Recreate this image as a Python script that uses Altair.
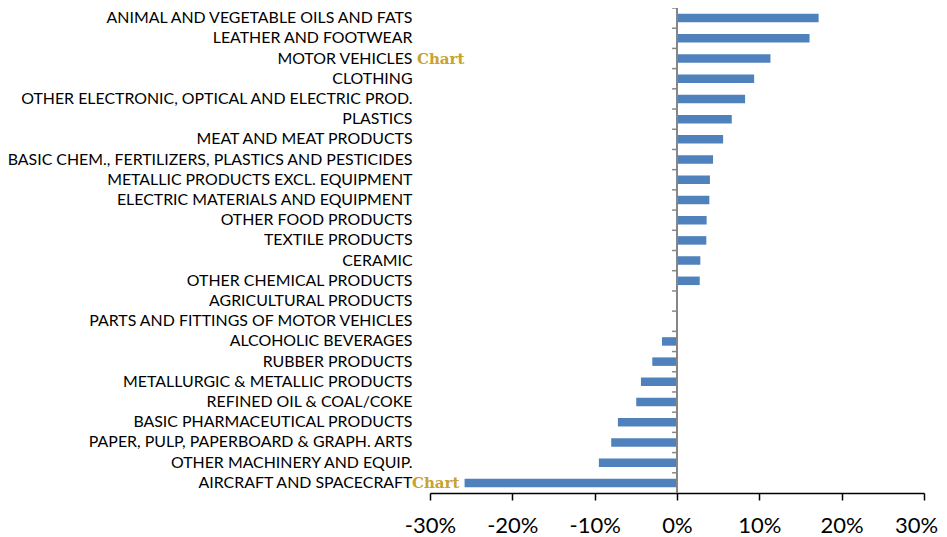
import altair as alt
import pandas as pd

categories = [
    "ANIMAL AND VEGETABLE OILS AND FATS",
    "LEATHER AND FOOTWEAR",
    "MOTOR VEHICLES",
    "CLOTHING",
    "OTHER ELECTRONIC, OPTICAL AND ELECTRIC PROD.",
    "PLASTICS",
    "MEAT AND MEAT PRODUCTS",
    "BASIC CHEM., FERTILIZERS, PLASTICS AND PESTICIDES",
    "METALLIC PRODUCTS EXCL. EQUIPMENT",
    "ELECTRIC MATERIALS AND EQUIPMENT\u00a0",
    "OTHER FOOD PRODUCTS",
    "TEXTILE PRODUCTS",
    "CERAMIC",
    "OTHER CHEMICAL PRODUCTS",
    "AGRICULTURAL PRODUCTS",
    "PARTS AND FITTINGS OF MOTOR VEHICLES",
    "ALCOHOLIC BEVERAGES",
    "RUBBER PRODUCTS",
    "METALLURGIC & METALLIC PRODUCTS",
    "REFINED OIL & COAL/COKE",
    "BASIC PHARMACEUTICAL PRODUCTS",
    "PAPER, PULP, PAPERBOARD & GRAPH. ARTS",
    "OTHER MACHINERY AND EQUIP.",
    "AIRCRAFT AND SPACECRAFT",
]
values = [
    0.172, 0.161, 0.1135, 0.0937, 0.0827, 0.0665, 0.056, 0.0438, 0.040, 0.0393,
    0.036, 0.0356, 0.0283, 0.0276, 0.0, 0.0, -0.0182, -0.030, -0.0438, -0.0495,
    -0.0718, -0.0799, -0.0949, -0.258,
]
x_ticks = [-0.3, -0.2, -0.1, 0.0, 0.1, 0.2, 0.3]

df = pd.DataFrame({"cat": categories, "val": values})
ticks_df = pd.DataFrame({"cat": categories, "x0": [-0.006] * len(categories), "x1": [0.0] * len(categories)})

xscale = alt.Scale(domain=[-0.3, 0.3], nice=False)
yscale = alt.Scale(domain=categories, paddingInner=0, paddingOuter=0)

base = alt.Chart(df)

bars = base.mark_bar(size=8.5, color="#4F81BD").encode(
    x=alt.X(
        "val:Q",
        scale=xscale,
        axis=alt.Axis(
            values=x_ticks,
            labelExpr="(datum.value < -0.0001 ? '-' : '') + format(abs(datum.value), '.0%')",
            title=None,
            grid=False,
            domainColor="#000000",
            domainWidth=1.5,
            tickColor="#000000",
            tickWidth=1.5,
            tickSize=7,
            labelFont="Lato",
            labelFontSize=22,
            labelColor="#000000",
            labelPadding=15,
            labelFlush=False,
            labelOverlap=False,
            labelOffset={"condition": {"test": "datum.value > 0.29", "value": -8}, "value": 0},
        ),
    ),
    y=alt.Y(
        "cat:N",
        sort=None,
        scale=yscale,
        axis=alt.Axis(
            title=None,
            domain=False,
            ticks=False,
            labelFont="Lato",
            labelFontSize=15.9,
            labelColor="#000000",
            labelPadding=18,
            labelLimit=500,
        ),
    ),
)

vline = alt.Chart(df).mark_rule(color="#868686", strokeWidth=2).encode(x=alt.datum(0))

cat_ticks = alt.Chart(ticks_df).mark_rule(color="#868686", strokeWidth=1.5).encode(
    y=alt.Y("cat:N", sort=None, scale=yscale, bandPosition=0),
    x=alt.X("x0:Q", scale=xscale),
    x2="x1:Q",
)

notes_motor = alt.Chart(pd.DataFrame({"cat": ["MOTOR VEHICLES"], "t": ["Chart"]})).mark_text(
    font="DejaVu Serif", fontWeight="bold", fontSize=15, color="#C9A22B",
    align="left", baseline="middle", dx=-13,
).encode(y=alt.Y("cat:N", sort=None, scale=yscale), x=alt.datum(-0.3), text="t:N")

notes_air = alt.Chart(pd.DataFrame({"cat": ["AIRCRAFT AND SPACECRAFT"], "t": ["Chart"]})).mark_text(
    font="DejaVu Serif", fontWeight="bold", fontSize=15, color="#C9A22B",
    align="left", baseline="middle", dx=-18,
).encode(y=alt.Y("cat:N", sort=None, scale=yscale), x=alt.datum(-0.3), text="t:N")

chart = alt.layer(bars, cat_ticks, vline, notes_motor, notes_air).properties(
    width=494,
    height=485,
    background="white",
    autosize=alt.AutoSizeParams(type="none"),
    padding={"left": 422, "top": 0, "right": 15, "bottom": 43},
).configure_view(strokeOpacity=0, strokeWidth=0)

chart.save("out.html", embed_options={"renderer": "svg", "actions": False})
